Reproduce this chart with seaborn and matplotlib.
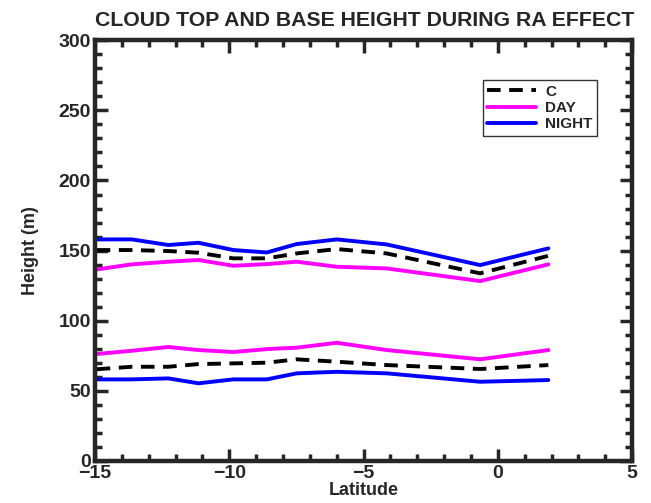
import matplotlib
matplotlib.use("Agg")
import matplotlib.pyplot as plt
import seaborn as sns
from matplotlib.ticker import MultipleLocator

# Station latitudes
latitude = [-14.94, -13.63, -12.27, -11.15, -9.85, -8.6, -7.49, -6.0, -4.14, -0.66, 1.88]

# Cloud top heights
top_c = [150.4, 150.4, 149.7, 148.5, 144.5, 144.5, 148.0, 151.1, 148.0, 133.8, 146.3]
top_day = [136.6, 140.2, 142.1, 143.3, 139.2, 140.4, 142.1, 138.5, 137.3, 128.3, 140.2]
top_night = [158.0, 158.0, 154.0, 155.6, 150.4, 148.7, 154.7, 158.0, 154.4, 139.7, 151.6]

# Cloud base heights
base_c = [65.4, 67.2, 67.2, 69.1, 69.6, 70.1, 72.5, 70.8, 68.4, 65.6, 68.4]
base_day = [76.3, 78.6, 81.3, 79.1, 77.7, 79.8, 80.8, 84.3, 79.1, 72.5, 79.1]
base_night = [58.2, 58.2, 58.9, 55.4, 58.2, 58.2, 62.5, 63.6, 62.5, 56.5, 57.7]

x_ticks = [-15, -10, -5, 0, 5]
y_ticks = [0, 50, 100, 150, 200, 250, 300]
series_labels = ["C", "DAY", "NIGHT"]

sns.set_style("ticks")
plt.rcParams["font.family"] = ["Liberation Sans", "DejaVu Sans"]
plt.rcParams["font.weight"] = "bold"

fig = plt.figure(figsize=(6.51, 5.03), dpi=100)
ax = fig.add_axes([0.146, 0.0835, 0.825, 0.8365])

styles = [
    dict(color="black", linestyle=(0, (3.5, 2.2))),
    dict(color="#ff00ff", linestyle="-"),
    dict(color="#0000ff", linestyle="-"),
]
tops = [top_c, top_day, top_night]
bases = [base_c, base_day, base_night]

for label, style, top, base in zip(series_labels, styles, tops, bases):
    sns.lineplot(x=latitude, y=top, ax=ax, label=label, linewidth=2.8, **style)
    sns.lineplot(x=latitude, y=base, ax=ax, linewidth=2.8, **style)

ax.set_xlim(-15, 5)
ax.set_ylim(0, 300)
ax.set_xticks(x_ticks)
ax.set_yticks(y_ticks)
ax.xaxis.set_minor_locator(MultipleLocator(1))
ax.yaxis.set_minor_locator(MultipleLocator(10))
ax.tick_params(which="both", direction="in", top=True, right=True, width=2.5, labelsize=14)
ax.tick_params(which="major", length=9)
ax.tick_params(which="minor", length=5)
ax.tick_params(axis="x", pad=3)
ax.tick_params(axis="y", pad=3)
for s in ax.spines.values():
    s.set_linewidth(3.2)
    s.set_visible(True)

ax.set_xlabel("Latitude", fontsize=13, fontweight="bold", labelpad=0)
ax.set_ylabel("Height (m)", fontsize=13, fontweight="bold", labelpad=14)
ax.set_title("CLOUD TOP AND BASE HEIGHT DURING RA EFFECT", fontsize=15.3,
             fontweight="bold", pad=10, loc="left", x=0.0)

leg = ax.legend(loc="upper right", bbox_to_anchor=(0.935, 0.905), frameon=True,
                fancybox=False, edgecolor="black", fontsize=11, handlelength=3.2,
                borderpad=0.3, labelspacing=0.15, handletextpad=0.6, borderaxespad=0)
leg.get_frame().set_linewidth(1.0)

fig.savefig("out.png", dpi=100)
